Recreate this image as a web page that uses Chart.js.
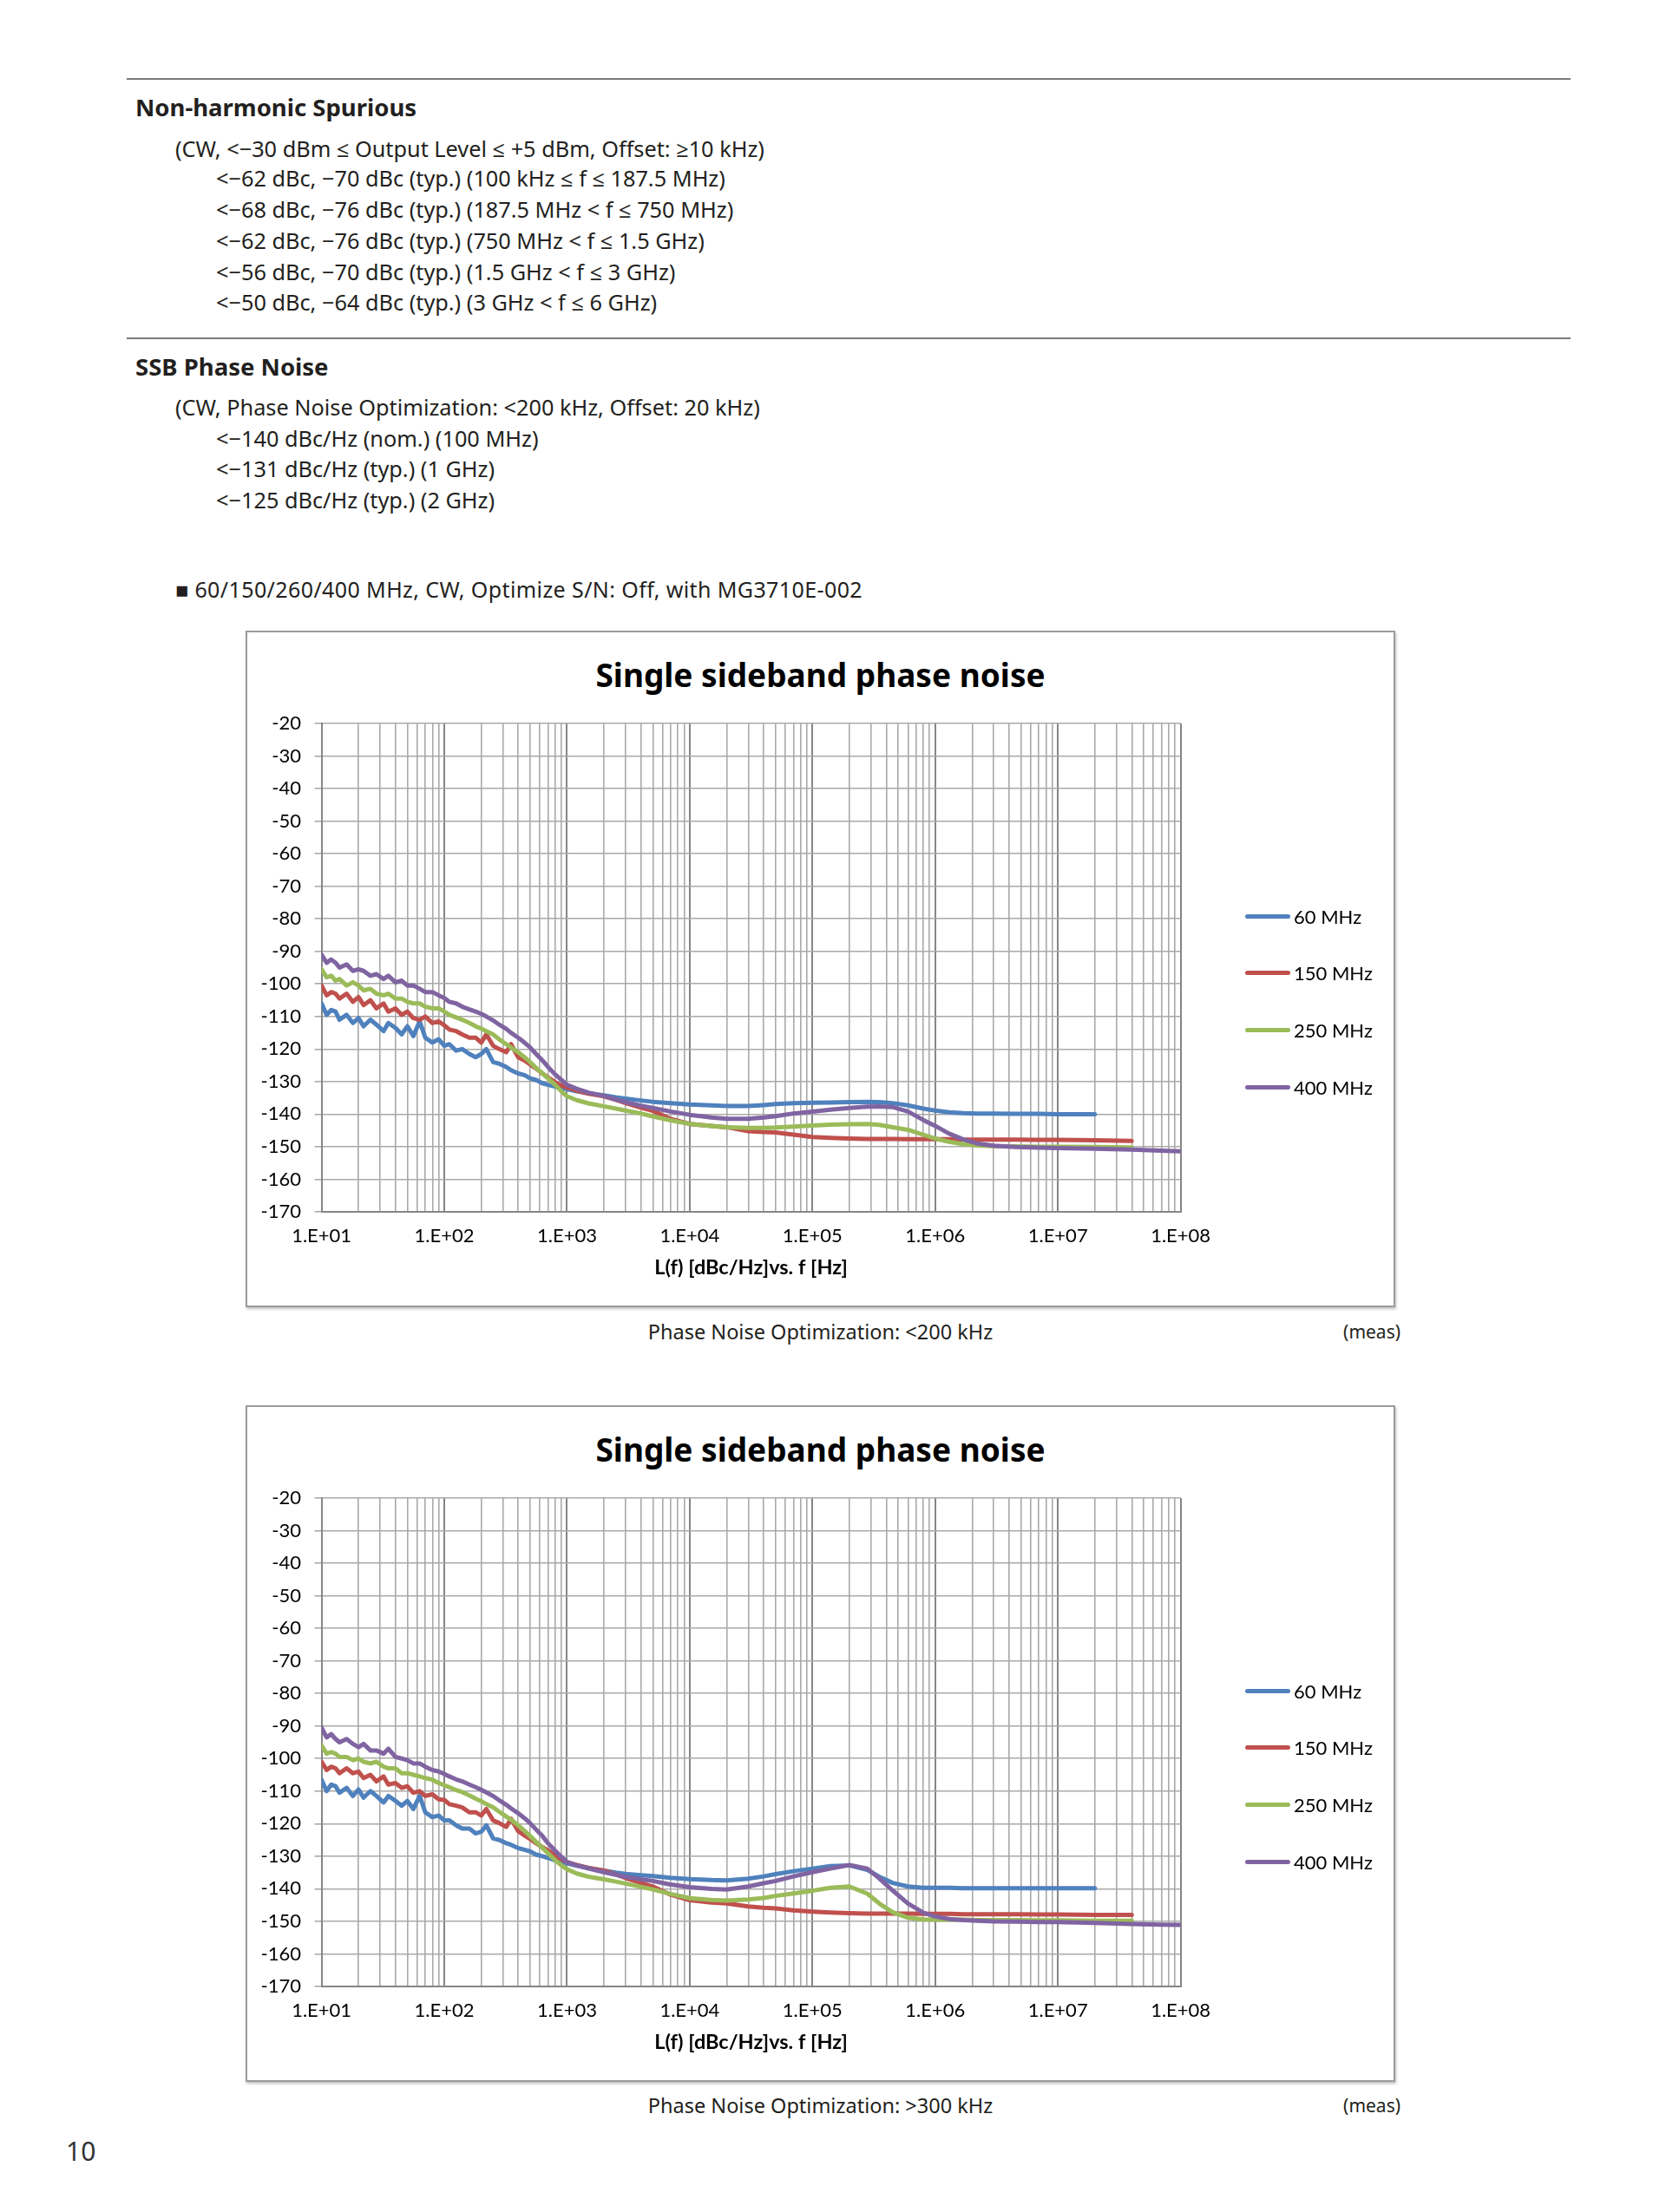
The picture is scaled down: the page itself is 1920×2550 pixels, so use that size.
<!DOCTYPE html>
<html>
<head>
<meta charset="utf-8">
<title>SSB Phase Noise</title>
<script src="https://cdn.jsdelivr.net/npm/chart.js@4.4.1/dist/chart.umd.min.js"></script>
<style>
  body { margin: 0; background: #fff; }
  .page { position: relative; width: 1920px; height: 2550px; font-family: "Noto Sans", "Open Sans", sans-serif; color: #231f20; overflow: hidden; }
  .rule { position: absolute; left: 146px; width: 1664px; height: 2px; background: #7a7a7a; }
  .t { position: absolute; white-space: nowrap; font-size: 25.3px; line-height: 30px; }
  .h { font-weight: bold; font-size: 27.5px; line-height: 34px; }
  .box { position: absolute; left: 283px; width: 1321px; height: 776px; border: 2px solid #9b9b9b; box-shadow: 1px 2px 3px rgba(0,0,0,0.25); background: #fff; }
  .chart { position: absolute; left: 283px; }
  .chart-title { position: absolute; left: 283px; width: 1325px; text-align: center; font-weight: bold; font-size: 37px; line-height: 44px; color: #000; }
  .legend { position: absolute; left: 1435px; font-family: Lato, sans-serif; font-size: 22px; color: #000; }
  .legend-item { height: 30px; margin-bottom: 35.9px; display: flex; align-items: center; }
  .swatch { display: inline-block; width: 52px; height: 5px; border-radius: 2.5px; margin-right: 4px; }
  .caption { position: absolute; left: 283px; width: 1325px; text-align: center; font-size: 23.5px; line-height: 30px; }
  .meas { position: absolute; right: 306px; font-size: 21px; line-height: 30px; }
</style>
</head>
<body>
<div class="page">
  <div class="rule" style="top:90px"></div>
  <div class="t h" style="left:156px; top:107px">Non-harmonic Spurious</div>
  <div class="t" style="left:202px; top:156px">(CW, &lt;−30 dBm ≤ Output Level ≤ +5 dBm, Offset: ≥10 kHz)</div>
  <div class="t" style="left:249px; top:190px">&lt;−62 dBc, −70 dBc (typ.) (100 kHz ≤ f ≤ 187.5 MHz)</div>
  <div class="t" style="left:249px; top:226px">&lt;−68 dBc, −76 dBc (typ.) (187.5 MHz &lt; f ≤ 750 MHz)</div>
  <div class="t" style="left:249px; top:262px">&lt;−62 dBc, −76 dBc (typ.) (750 MHz &lt; f ≤ 1.5 GHz)</div>
  <div class="t" style="left:249px; top:298px">&lt;−56 dBc, −70 dBc (typ.) (1.5 GHz &lt; f ≤ 3 GHz)</div>
  <div class="t" style="left:249px; top:333px">&lt;−50 dBc, −64 dBc (typ.) (3 GHz &lt; f ≤ 6 GHz)</div>

  <div class="rule" style="top:389px"></div>
  <div class="t h" style="left:156px; top:406px">SSB Phase Noise</div>
  <div class="t" style="left:202px; top:454px">(CW, Phase Noise Optimization: &lt;200 kHz, Offset: 20 kHz)</div>
  <div class="t" style="left:249px; top:490px">&lt;−140 dBc/Hz (nom.) (100 MHz)</div>
  <div class="t" style="left:249px; top:525px">&lt;−131 dBc/Hz (typ.) (1 GHz)</div>
  <div class="t" style="left:249px; top:561px">&lt;−125 dBc/Hz (typ.) (2 GHz)</div>

  <div class="t" style="left:202px; top:664px; font-size:25px; letter-spacing:0.4px">■ 60/150/260/400 MHz, CW, Optimize S/N: Off, with MG3710E-002</div>

  <!-- グラフ1 -->
  <div class="box" style="top:727px"></div>
  <div class="chart-title" style="top:756px">Single sideband phase noise</div>
  <canvas class="chart" id="chartLow" width="1325" height="780" style="top:727px"></canvas>
  <div class="legend" id="legendLow" style="top:1041px"></div>
  <div class="caption" style="top:1520px">Phase Noise Optimization: &lt;200 kHz</div>
  <div class="meas" style="top:1520px">(meas)</div>

  <!-- グラフ2 -->
  <div class="box" style="top:1620px"></div>
  <div class="chart-title" style="top:1649px">Single sideband phase noise</div>
  <canvas class="chart" id="chartHigh" width="1325" height="780" style="top:1620px"></canvas>
  <div class="legend" id="legendHigh" style="top:1934px"></div>
  <div class="caption" style="top:2412px">Phase Noise Optimization: &gt;300 kHz</div>
  <div class="meas" style="top:2412px">(meas)</div>

  <div class="t" style="left:76px; top:2462px; font-size:30px; line-height:36px; color:#333">10</div>
</div>

<script>
// オフセット周波数 [Hz]
const freqHz = [10, 11, 12, 13, 14, 16, 18, 20, 22, 25, 28, 32, 35, 40, 45, 50, 56, 63, 70, 80, 90,
  100, 110, 125, 140, 160, 180, 200, 220, 250, 280, 320, 350, 400, 450, 500, 560, 630, 700, 800, 900,
  1000, 1200, 1500, 2000, 2500, 3000, 4000, 5000, 7000,
  1e4, 1.5e4, 2e4, 3e4, 4e4, 5e4, 7e4, 1e5, 1.4e5, 2e5, 2.8e5, 3.5e5, 4.5e5, 6e5, 8e5,
  1e6, 1.3e6, 1.7e6, 2.2e6, 3e6, 4.5e6, 7e6, 1e7, 2e7, 4e7, 7e7, 1e8];

const seriesLabels = ['60 MHz', '150 MHz', '250 MHz', '400 MHz'];
const seriesColors = ['#4f81bd', '#c0504d', '#9bbb59', '#8064a2'];

// X軸の目盛り
const decadeHz = [1e1, 1e2, 1e3, 1e4, 1e5, 1e6, 1e7, 1e8];
const decadeLabels = ['1.E+01', '1.E+02', '1.E+03', '1.E+04', '1.E+05', '1.E+06', '1.E+07', '1.E+08'];
const minorSteps = [2, 3, 4, 5, 6, 7, 8, 9];

// Phase Noise Optimization: <200 kHz
const lowOpt60 = [-106, -109.5, -108, -108.5, -111, -109.5, -112, -110.5, -113, -111, -112.5, -114.5, -112, -113.5, -115.5, -113, -116, -111.5, -116.5, -118, -117,
  -119, -118.5, -120.5, -120, -121.5, -122.5, -121.5, -120, -124, -124.5, -125.5, -126.5, -127.5, -128, -129, -129.5, -130.5, -131, -131.5, -132,
  -132.3, -133, -133.6, -134.2, -134.8, -135.2, -135.8, -136.2, -136.6,
  -137, -137.3, -137.5, -137.5, -137.2, -136.9, -136.6, -136.5, -136.4, -136.3, -136.2, -136.3, -136.6, -137.3, -138.3,
  -138.9, -139.4, -139.7, -139.8, -139.8, -139.9, -139.9, -140, -140, null, null, null];
const lowOpt150 = [-100.5, -103.5, -102.5, -103, -104.5, -103, -105.5, -104, -106.5, -105, -107.5, -106, -108.5, -107.5, -109.5, -108.5, -110.5, -111, -110, -112, -111.5,
  -112.7, -114, -114.5, -115.5, -116.5, -116.5, -118, -115.5, -119, -120, -121, -118.5, -122.5, -123.5, -124.7, -126, -127.5, -128.7, -130.2, -131.2,
  -131.8, -132.8, -133.7, -134.5, -135.6, -136.6, -138, -139, -141.5,
  -143, -143.6, -144, -145.2, -145.5, -145.6, -146.3, -147, -147.3, -147.5, -147.6, -147.6, -147.6, -147.7, -147.7,
  -147.7, -147.7, -147.8, -147.8, -147.8, -147.8, -147.9, -147.9, -148, -148.2, null, null];
const lowOpt250 = [-95.5, -98, -97.5, -99, -98.5, -100.5, -99.5, -100.5, -102, -101.5, -103, -103.5, -103, -104.5, -104.5, -105.5, -106, -106, -107, -107.5, -107.5,
  -108.5, -109.5, -110.3, -111, -112, -113, -113.7, -114.5, -115.5, -117, -118.5, -119.5, -121, -122.5, -124, -125.8, -127.5, -129, -131, -133,
  -134.5, -135.7, -136.7, -137.6, -138.3, -138.9, -139.8, -140.7, -141.9,
  -143, -143.6, -144, -144.2, -144.2, -144.1, -143.8, -143.5, -143.2, -143.1, -143, -143.3, -144, -144.8, -146.3,
  -147.5, -148.5, -149.2, -149.6, -149.8, -149.9, -150, -150, -150.1, -150.2, null, null];
const lowOpt400 = [-91, -93.5, -92.5, -93.5, -95, -94, -96, -95.5, -96, -97.5, -97, -98.5, -97.5, -99.5, -99, -100.5, -100.5, -101.5, -102.5, -102.5, -103.5,
  -104.3, -105.5, -106, -107, -107.8, -108.5, -109.2, -110, -111.2, -112.5, -113.8, -115, -116.5, -118, -119.5, -121.5, -123.5, -125.5, -127.8, -129.5,
  -131, -132.2, -133.4, -134.4, -135.5, -136.3, -137.4, -138.1, -139.2,
  -140.2, -141, -141.4, -141.4, -141, -140.6, -139.8, -139.2, -138.6, -138.1, -137.7, -137.6, -137.8, -139.2, -141.8,
  -143.6, -146, -147.8, -149, -149.7, -150.1, -150.3, -150.4, -150.6, -150.9, -151.2, -151.4];

// Phase Noise Optimization: >300 kHz
const highOpt60 = [-106.5, -110, -108, -108.5, -110.5, -109, -111.5, -109.5, -112, -110, -111.5, -113.5, -111.5, -113, -114.5, -113, -115.5, -111.5, -116.5, -118, -117.5,
  -119, -119, -120.5, -121.5, -121.5, -123, -122.5, -120.5, -124.5, -125, -126, -126.5, -127.5, -128, -128.5, -129.5, -130, -130.5, -131.3, -131.8,
  -132.2, -132.9, -133.6, -134.4, -135, -135.4, -135.8, -136.1, -136.6,
  -137, -137.3, -137.4, -136.9, -136.2, -135.5, -134.6, -133.8, -133, -132.8, -134.2, -136.3, -138.2, -139.3, -139.7,
  -139.7, -139.7, -139.8, -139.8, -139.8, -139.8, -139.8, -139.8, -139.8, null, null, null];
const highOpt150 = [-101, -103.5, -102.5, -103, -104.5, -103, -104.5, -104, -106, -105, -107, -105.5, -108, -107.5, -109, -108.5, -110.5, -110, -111.5, -111, -112.5,
  -112.7, -114, -114.5, -115, -116.5, -116.5, -117.5, -115.5, -119, -119.8, -121, -118.5, -122.3, -123.6, -124.7, -126, -127.2, -128.2, -129.8, -130.9,
  -131.8, -132.7, -133.6, -134.4, -135.6, -136.7, -138.2, -139.3, -141.8,
  -143.5, -144.2, -144.5, -145.4, -145.8, -146, -146.6, -147, -147.3, -147.5, -147.6, -147.6, -147.6, -147.6, -147.7,
  -147.7, -147.7, -147.8, -147.8, -147.8, -147.8, -147.9, -147.9, -148, -148, null, null];
const highOpt250 = [-96, -98.5, -98, -98.5, -99.5, -99.5, -100.5, -100, -101, -101.5, -101, -102.5, -103, -103, -104.5, -104.5, -105, -105.5, -106, -106.5, -107.5,
  -108.2, -108.8, -109.7, -110.3, -111.3, -112.3, -113.1, -114, -115, -116.3, -117.8, -118.8, -120.5, -122.2, -123.8, -125.6, -127.4, -129.1, -131.2, -132.8,
  -134, -135.3, -136.3, -137.1, -137.8, -138.4, -139.4, -140.2, -141.6,
  -142.9, -143.4, -143.6, -143.3, -142.8, -142.2, -141.4, -140.6, -139.7, -139.3, -141.5, -144.5, -147.2, -148.9, -149.4,
  -149.5, -149.5, -149.5, -149.6, -149.6, -149.6, -149.7, -149.7, -149.8, -149.8, null, null];
const highOpt400 = [-90.5, -93.5, -92.5, -94, -95, -94, -95.5, -96.5, -95.5, -97.5, -97.5, -98.5, -97, -99.5, -100, -100.5, -101.5, -101.5, -102.5, -103.5, -104,
  -104.7, -105.5, -106.4, -107, -108, -108.8, -109.6, -110.4, -111.5, -112.8, -114.2, -115.3, -116.8, -118.3, -119.8, -121.8, -123.8, -126, -128.3, -130.2,
  -131.8, -132.8, -133.8, -134.9, -135.7, -136.3, -137.1, -137.6, -138.7,
  -139.5, -140, -140.2, -139.3, -138.3, -137.6, -136.2, -134.9, -133.8, -132.7, -133.8, -136.8, -140.5, -144.5, -147.3,
  -148.5, -149.3, -149.6, -149.8, -150, -150.1, -150.2, -150.2, -150.5, -150.8, -151, -151.1];

// 縦グリッド線（1,2,...,9 × 10^n）
const gridHz = [];
decadeHz.forEach(d => {
  gridHz.push(d);
  if (d < 1e8) minorSteps.forEach(m => gridHz.push(d * m));
});

const axisFont = { family: 'Lato', size: 22 };

function buildPhaseNoiseChart(canvasId, legendId, seriesValues) {
  const datasets = seriesValues.map((values, i) => ({
    label: seriesLabels[i],
    data: freqHz.map((f, j) => ({ x: f, y: values[j] })),
    borderColor: seriesColors[i],
    backgroundColor: seriesColors[i],
    borderWidth: 5,
    pointRadius: 0,
    tension: 0,
    borderCapStyle: 'round',
    borderJoinStyle: 'round',
    order: seriesValues.length - i // 後の系列を上に描画
  }));

  const ctx = document.getElementById(canvasId).getContext('2d');
  const chart = new Chart(ctx, {
    type: 'line',
    data: { datasets: datasets },
    options: {
      responsive: false,
      animation: false,
      layout: { padding: { left: 0, right: 247.4, top: 107, bottom: 0 } },
      plugins: {
        legend: { display: false },
        tooltip: { enabled: false }
      },
      scales: {
        x: {
          type: 'logarithmic',
          min: 10,
          max: 1e8,
          afterBuildTicks: scale => { scale.ticks = gridHz.map(v => ({ value: v })); },
          afterFit: scale => { scale.height = 110; },
          grid: {
            color: c => (c.tick && decadeHz.includes(c.tick.value)) ? '#858585' : '#a9a9a9',
            lineWidth: c => (c.tick && decadeHz.includes(c.tick.value)) ? 2 : 1.6,
            drawTicks: false
          },
          border: { color: '#858585', width: 2 },
          ticks: {
            autoSkip: false,
            maxRotation: 0,
            minRotation: 0,
            padding: 15,
            color: '#000',
            font: axisFont,
            callback: function(value) {
              const idx = decadeHz.indexOf(value);
              return idx >= 0 ? decadeLabels[idx] : '';
            }
          },
          title: {
            display: true,
            text: 'L(f) [dBc/Hz]vs. f [Hz]',
            color: '#000',
            font: { family: 'Lato', size: 23.5, weight: 'bold' },
            padding: { top: 0, bottom: 31 }
          }
        },
        y: {
          min: -170,
          max: -20,
          afterFit: scale => { scale.width = 87.6; },
          grid: { color: '#a9a9a9', lineWidth: 1.6, tickLength: 8 },
          border: { color: '#858585', width: 2 },
          ticks: { stepSize: 10, padding: 15.6, color: '#000', font: axisFont }
        }
      }
    }
  });

  // 凡例（右側・縦並び）
  const legendEl = document.getElementById(legendId);
  chart.data.datasets.forEach(ds => {
    const item = document.createElement('div');
    item.className = 'legend-item';
    item.innerHTML = `<span class="swatch" style="background:${ds.borderColor}"></span>${ds.label}`;
    legendEl.appendChild(item);
  });
  return chart;
}

document.addEventListener('DOMContentLoaded', function() {
  buildPhaseNoiseChart('chartLow', 'legendLow', [lowOpt60, lowOpt150, lowOpt250, lowOpt400]);
  buildPhaseNoiseChart('chartHigh', 'legendHigh', [highOpt60, highOpt150, highOpt250, highOpt400]);
});
</script>
</body>
</html>
